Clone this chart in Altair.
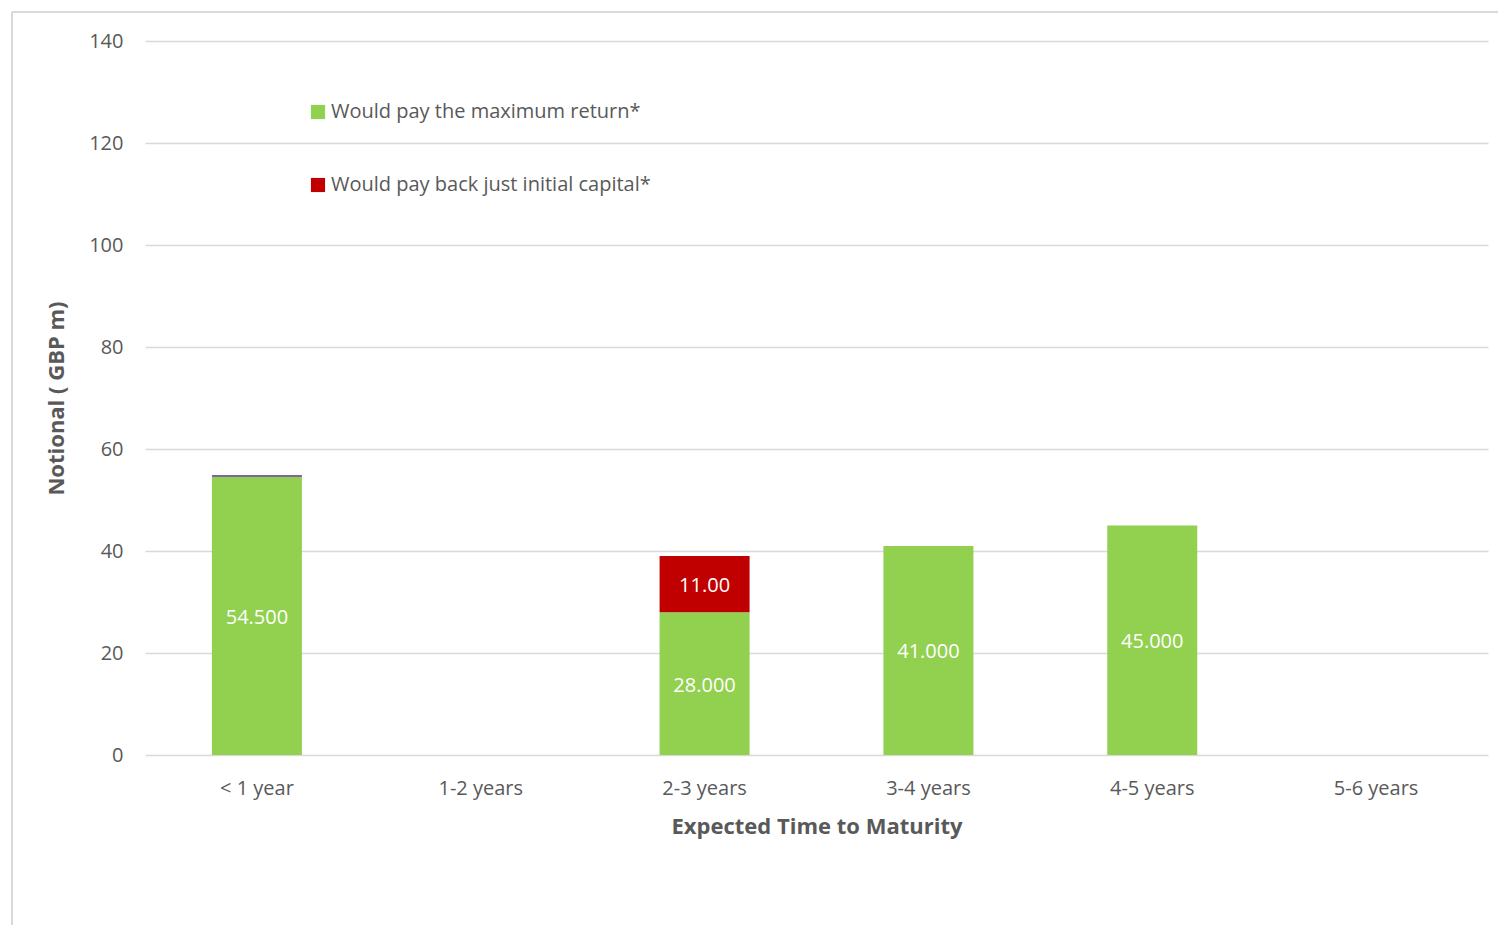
import altair as alt
import pandas as pd

categories = ["< 1 year", "1-2 years", "2-3 years", "3-4 years", "4-5 years", "5-6 years"]
max_return = [54.5, None, 28.0, 41.0, 45.0, None]
initial_capital = [None, None, 11.0, None, None, None]
other = [0.4, None, None, None, None, None]
max_labels = ["54.500", "", "28.000", "41.000", "45.000", ""]
cap_labels = ["", "", "11.00", "", "", ""]

S_MAX = "Would pay the maximum return*"
S_CAP = "Would pay back just initial capital*"
S_OTH = "Other"

rows = []
for i, c in enumerate(categories):
    if max_return[i] is not None:
        rows.append({"cat": c, "series": S_MAX, "value": max_return[i], "label": max_labels[i], "ord": 0})
    if initial_capital[i] is not None:
        rows.append({"cat": c, "series": S_CAP, "value": initial_capital[i], "label": cap_labels[i], "ord": 1})
    if other[i] is not None:
        rows.append({"cat": c, "series": S_OTH, "value": other[i], "label": "", "ord": 2})
df = pd.DataFrame(rows)

FONT = "Open Sans"
GREY = "#595959"
GRID = "#d9d9d9"

base = alt.Chart(df).transform_stack(
    stack="value", groupby=["cat"], sort=[alt.SortField("ord")], as_=["v0", "v1"]
).transform_calculate(mid="(datum.v0 + datum.v1) / 2")

xaxis = alt.Axis(title="Expected Time to Maturity", labelAngle=0, ticks=False, domain=False,
                 grid=False,
                 labelPadding=23, titlePadding=18, labelFontSize=20, titleFontSize=22,
                 labelColor=GREY, titleColor=GREY, labelFont=FONT, titleFont=FONT,
                 titleFontWeight="bold")
yaxis = alt.Axis(title="Notional  ( GBP m)", values=[0, 20, 40, 60, 80, 100, 120, 140],
                 ticks=False, domain=False, gridColor=GRID, gridWidth=1.5,
                 labelPadding=22, titlePadding=20, labelFontSize=20, titleFontSize=22,
                 labelColor=GREY, titleColor=GREY, labelFont=FONT, titleFont=FONT,
                 titleFontWeight="bold")

bars = base.mark_bar(size=90).encode(
    x=alt.X("cat:N", scale=alt.Scale(domain=categories), axis=xaxis),
    y=alt.Y("v0:Q", scale=alt.Scale(domain=[0, 140]), axis=yaxis),
    y2="v1:Q",
    color=alt.Color("series:N",
                    scale=alt.Scale(domain=[S_MAX, S_CAP, S_OTH], range=["#92d050", "#c00000", "#8064a2"]),
                    legend=alt.Legend(title=None, orient="none", legendX=163, legendY=61,
                                      values=[S_MAX, S_CAP], symbolType="square", symbolSize=200,
                                      symbolStrokeWidth=0, rowPadding=53, labelFontSize=20,
                                      labelFont=FONT, labelColor=GREY, labelLimit=600, labelOffset=3)),
    order=alt.Order("ord:Q"),
)

texts = base.mark_text(color="white", fontSize=20, font=FONT, dy=2).encode(
    x=alt.X("cat:N", scale=alt.Scale(domain=categories), axis=xaxis),
    y=alt.Y("mid:Q", scale=alt.Scale(domain=[0, 140]), axis=yaxis),
    text="label:N",
)

border_top = alt.Chart(pd.DataFrame({"a": [0]})).mark_rule(color=GRID, strokeWidth=2).encode(
    x=alt.value(-133), x2=alt.value(1400), y=alt.value(-29))
border_left = alt.Chart(pd.DataFrame({"a": [0]})).mark_rule(color=GRID, strokeWidth=2).encode(
    x=alt.value(-133), y=alt.value(-29), y2=alt.value(1000))

chart = alt.layer(bars, texts, border_top, border_left).properties(
    width=1343, height=714,
    background="white",
    autosize=alt.AutoSizeParams(type="none"),
    padding={"left": 137, "top": 33, "right": 10, "bottom": 170},
).configure_view(strokeWidth=0, stroke=None)

chart.save("out.html", embed_options={"renderer": "svg", "actions": False})
